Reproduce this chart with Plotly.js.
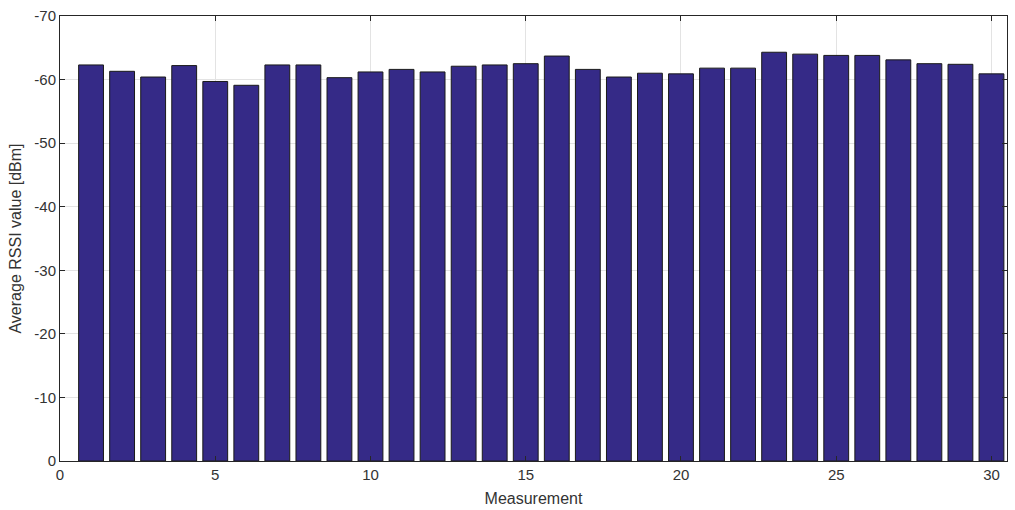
<!DOCTYPE html>
<html><head><meta charset="utf-8">
<script src="https://cdn.plot.ly/plotly-3.0.1.min.js"></script>
<style>html,body{margin:0;padding:0;background:#fff}#c{width:1015px;height:510px}</style>
</head><body><div id="c"></div>
<script>
const measurement = [1,2,3,4,5,6,7,8,9,10,11,12,13,14,15,16,17,18,19,20,21,22,23,24,25,26,27,28,29,30];
const avgRssi = [-62.3,-61.3,-60.4,-62.2,-59.7,-59.1,-62.3,-62.3,-60.3,-61.2,
                 -61.6,-61.2,-62.1,-62.3,-62.5,-63.7,-61.6,-60.4,-61.0,-60.9,
                 -61.8,-61.8,-64.3,-64.0,-63.8,-63.8,-63.1,-62.5,-62.4,-60.9];
const xTicks = [0,5,10,15,20,25,30];
const yTicks = [0,-10,-20,-30,-40,-50,-60,-70];

const axisCol = '#262626';
const font = {family:'Liberation Sans, Arial, sans-serif', size:15, color:'#333333'};
Plotly.newPlot('c', [{
  type:'bar', x:measurement, y:avgRssi, width:0.8,
  marker:{color:'#352a87', line:{color:'#1a1a1a', width:1}}
}], {
  width:1015, height:510,
  margin:{l:60, r:8, t:16, b:49},
  paper_bgcolor:'#fff', plot_bgcolor:'#fff',
  showlegend:false, font:font,
  xaxis:{range:[0,30.5], tickvals:xTicks, ticktext:xTicks.map(String),
    showgrid:true, gridcolor:'#e3e3e3', zeroline:false,
    showline:true, linecolor:axisCol, linewidth:1, mirror:'ticks',
    ticks:'inside', ticklen:5, tickcolor:axisCol,
    title:{text:'Measurement', font:{size:16, color:'#333333'}, standoff:10}},
  yaxis:{range:[0,-70], tickvals:yTicks, ticktext:yTicks.map(String),
    showgrid:true, gridcolor:'#e3e3e3', zeroline:false,
    showline:true, linecolor:axisCol, linewidth:1, mirror:'ticks',
    ticks:'inside', ticklen:5, tickcolor:axisCol,
    title:{text:'Average RSSI value [dBm]', font:{size:16, color:'#333333'}, standoff:8}}
}, {displayModeBar:false, staticPlot:true});
</script></body></html>
